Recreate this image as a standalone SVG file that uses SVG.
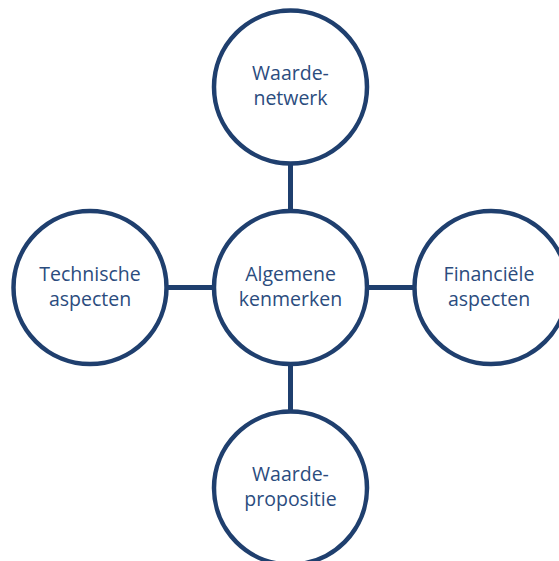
<svg xmlns="http://www.w3.org/2000/svg" width="559" height="561" viewBox="0 0 559 561">
<style>
.n{fill:#ffffff;stroke:#1f3f6e;stroke-width:4.5}
.c{stroke:#1f3f6e;stroke-width:5;fill:none}
.t{font-family:"Open Sans","Noto Sans",sans-serif;font-size:19.5px;fill:#2b4c7e;text-anchor:middle}
</style>
<rect width="559" height="561" fill="#ffffff"/>
<g id="connectors">
<line class="c" x1="290.5" y1="163" x2="290.5" y2="211"/>
<line class="c" x1="290.5" y1="364" x2="290.5" y2="412"/>
<line class="c" x1="167" y1="287.5" x2="214" y2="287.5"/>
<line class="c" x1="367" y1="287.5" x2="415" y2="287.5"/>
</g>
<g id="waardenetwerk">
<circle class="n" cx="290.5" cy="87" r="76.5"/>
<text class="t" x="290.5" y="80">Waarde-</text>
<text class="t" x="290.5" y="105">netwerk</text>
</g>
<g id="algemene">
<circle class="n" cx="290.5" cy="287.5" r="76.5"/>
<text class="t" x="290.5" y="281">Algemene</text>
<text class="t" x="290.5" y="306">kenmerken</text>
</g>
<g id="technische">
<circle class="n" cx="90" cy="287.5" r="76.5"/>
<text class="t" x="90" y="281">Technische</text>
<text class="t" x="90" y="306">aspecten</text>
</g>
<g id="financiele">
<circle class="n" cx="491" cy="287.5" r="76.5"/>
<text class="t" x="489" y="281">Financiële</text>
<text class="t" x="489" y="306">aspecten</text>
</g>
<g id="waardepropositie">
<circle class="n" cx="290.5" cy="488" r="76.5"/>
<text class="t" x="290.5" y="481">Waarde-</text>
<text class="t" x="290.5" y="506">propositie</text>
</g>
</svg>
